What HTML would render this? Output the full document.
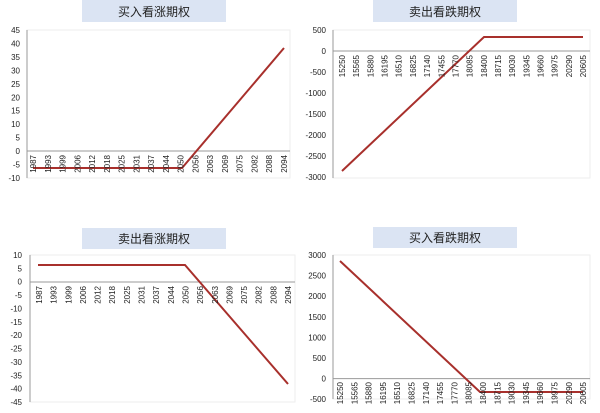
<!DOCTYPE html>
<html><head><meta charset="utf-8"><style>
body{margin:0;background:#fff;}
svg{display:block;font-family:"Liberation Sans","Noto Sans CJK SC",sans-serif;}
.t{font-size:12px;fill:#222;text-anchor:middle}
.y{font-size:8px;fill:#222;text-anchor:end}
.x{font-size:8px;fill:#222}
</style></head><body>
<svg width="600" height="413" viewBox="0 0 600 413" xmlns="http://www.w3.org/2000/svg">
<rect x="82" y="0" width="144" height="22" fill="#dbe4f3"/>
<text class="t" x="154" y="16">买入看涨期权</text>
<rect x="27" y="30" width="263" height="148" fill="none" stroke="#eee"/>
<line x1="27" y1="30" x2="27" y2="178" stroke="#999"/>
<line x1="27" y1="151" x2="290" y2="151" stroke="#999"/>
<g class="y">
<text x="20" y="33">45</text><text x="20" y="46.5">40</text><text x="20" y="60">35</text><text x="20" y="73.4">30</text><text x="20" y="86.8">25</text><text x="20" y="100.3">20</text><text x="20" y="113.7">15</text><text x="20" y="127.2">10</text><text x="20" y="140.6">5</text><text x="20" y="154">0</text><text x="20" y="167.5">-5</text><text x="20" y="181">-10</text>
</g>
<polyline points="33,168 182,168 284,48" fill="none" stroke="#a8302c" stroke-width="2"/>

<rect x="373" y="0" width="144" height="22" fill="#dbe4f3"/>
<text class="t" x="445" y="16">卖出看跌期权</text>
<rect x="333" y="30" width="257" height="148" fill="none" stroke="#eee"/>
<line x1="333" y1="30" x2="333" y2="178" stroke="#999"/>
<line x1="333" y1="51" x2="590" y2="51" stroke="#999"/>
<g class="y">
<text x="326" y="33">500</text><text x="326" y="54">0</text><text x="326" y="75">-500</text><text x="326" y="96">-1000</text><text x="326" y="117">-1500</text><text x="326" y="138">-2000</text><text x="326" y="159">-2500</text><text x="326" y="180">-3000</text>
</g>
<polyline points="342,171 484,37 583,37" fill="none" stroke="#a8302c" stroke-width="2"/>

<rect x="82" y="228" width="144" height="21" fill="#dbe4f3"/>
<text class="t" x="154" y="243">卖出看涨期权</text>
<rect x="30" y="255" width="265" height="147" fill="none" stroke="#eee"/>
<line x1="30" y1="255" x2="30" y2="402" stroke="#999"/>
<line x1="30" y1="282" x2="295" y2="282" stroke="#999"/>
<g class="y">
<text x="22" y="258">10</text><text x="22" y="271.4">5</text><text x="22" y="284.7">0</text><text x="22" y="298">-5</text><text x="22" y="311.5">-10</text><text x="22" y="324.8">-15</text><text x="22" y="338.2">-20</text><text x="22" y="351.5">-25</text><text x="22" y="364.9">-30</text><text x="22" y="378.3">-35</text><text x="22" y="391.6">-40</text><text x="22" y="405">-45</text>
</g>
<polyline points="38,265 185,265 288,384" fill="none" stroke="#a8302c" stroke-width="2"/>

<rect x="373" y="227" width="144" height="21" fill="#dbe4f3"/>
<text class="t" x="445" y="242">买入看跌期权</text>
<rect x="333" y="255" width="257" height="144" fill="none" stroke="#eee"/>
<line x1="333" y1="255" x2="333" y2="399" stroke="#999"/>
<line x1="333" y1="378.6" x2="590" y2="378.6" stroke="#999"/>
<g class="y">
<text x="326" y="258">3000</text><text x="326" y="278.6">2500</text><text x="326" y="299.2">2000</text><text x="326" y="319.8">1500</text><text x="326" y="340.4">1000</text><text x="326" y="361">500</text><text x="326" y="381.6">0</text><text x="326" y="402">-500</text>
</g>
<polyline points="340,261 480,392 583,392" fill="none" stroke="#a8302c" stroke-width="2"/>

<g class="x">
<text transform="translate(36,155) rotate(-90)" text-anchor="end">1987</text>
<text transform="translate(50.8,155) rotate(-90)" text-anchor="end">1993</text>
<text transform="translate(65.5,155) rotate(-90)" text-anchor="end">1999</text>
<text transform="translate(80.3,155) rotate(-90)" text-anchor="end">2006</text>
<text transform="translate(95,155) rotate(-90)" text-anchor="end">2012</text>
<text transform="translate(109.8,155) rotate(-90)" text-anchor="end">2018</text>
<text transform="translate(124.6,155) rotate(-90)" text-anchor="end">2025</text>
<text transform="translate(139.3,155) rotate(-90)" text-anchor="end">2031</text>
<text transform="translate(154,155) rotate(-90)" text-anchor="end">2037</text>
<text transform="translate(168.8,155) rotate(-90)" text-anchor="end">2044</text>
<text transform="translate(183.6,155) rotate(-90)" text-anchor="end">2050</text>
<text transform="translate(198.4,155) rotate(-90)" text-anchor="end">2056</text>
<text transform="translate(213,155) rotate(-90)" text-anchor="end">2063</text>
<text transform="translate(227.9,155) rotate(-90)" text-anchor="end">2069</text>
<text transform="translate(242.6,155) rotate(-90)" text-anchor="end">2075</text>
<text transform="translate(257.4,155) rotate(-90)" text-anchor="end">2082</text>
<text transform="translate(272.2,155) rotate(-90)" text-anchor="end">2088</text>
<text transform="translate(287,155) rotate(-90)" text-anchor="end">2094</text>
</g>
<g class="x">
<text transform="translate(42,286) rotate(-90)" text-anchor="end">1987</text>
<text transform="translate(56.6,286) rotate(-90)" text-anchor="end">1993</text>
<text transform="translate(71.3,286) rotate(-90)" text-anchor="end">1999</text>
<text transform="translate(85.9,286) rotate(-90)" text-anchor="end">2006</text>
<text transform="translate(100.6,286) rotate(-90)" text-anchor="end">2012</text>
<text transform="translate(115.2,286) rotate(-90)" text-anchor="end">2018</text>
<text transform="translate(129.9,286) rotate(-90)" text-anchor="end">2025</text>
<text transform="translate(144.5,286) rotate(-90)" text-anchor="end">2031</text>
<text transform="translate(159.2,286) rotate(-90)" text-anchor="end">2037</text>
<text transform="translate(173.8,286) rotate(-90)" text-anchor="end">2044</text>
<text transform="translate(188.5,286) rotate(-90)" text-anchor="end">2050</text>
<text transform="translate(203.1,286) rotate(-90)" text-anchor="end">2056</text>
<text transform="translate(217.8,286) rotate(-90)" text-anchor="end">2063</text>
<text transform="translate(232.4,286) rotate(-90)" text-anchor="end">2069</text>
<text transform="translate(247.1,286) rotate(-90)" text-anchor="end">2075</text>
<text transform="translate(261.7,286) rotate(-90)" text-anchor="end">2082</text>
<text transform="translate(276.4,286) rotate(-90)" text-anchor="end">2088</text>
<text transform="translate(291,286) rotate(-90)" text-anchor="end">2094</text>
</g>
<g class="x">
<text transform="translate(345,55) rotate(-90)" text-anchor="end">15250</text>
<text transform="translate(359.2,55) rotate(-90)" text-anchor="end">15565</text>
<text transform="translate(373.4,55) rotate(-90)" text-anchor="end">15880</text>
<text transform="translate(387.5,55) rotate(-90)" text-anchor="end">16195</text>
<text transform="translate(401.7,55) rotate(-90)" text-anchor="end">16510</text>
<text transform="translate(415.9,55) rotate(-90)" text-anchor="end">16825</text>
<text transform="translate(430.1,55) rotate(-90)" text-anchor="end">17140</text>
<text transform="translate(444.3,55) rotate(-90)" text-anchor="end">17455</text>
<text transform="translate(458.4,55) rotate(-90)" text-anchor="end">17770</text>
<text transform="translate(472.6,55) rotate(-90)" text-anchor="end">18085</text>
<text transform="translate(486.8,55) rotate(-90)" text-anchor="end">18400</text>
<text transform="translate(501,55) rotate(-90)" text-anchor="end">18715</text>
<text transform="translate(515.2,55) rotate(-90)" text-anchor="end">19030</text>
<text transform="translate(529.3,55) rotate(-90)" text-anchor="end">19345</text>
<text transform="translate(543.5,55) rotate(-90)" text-anchor="end">19660</text>
<text transform="translate(557.7,55) rotate(-90)" text-anchor="end">19975</text>
<text transform="translate(571.9,55) rotate(-90)" text-anchor="end">20290</text>
<text transform="translate(586,55) rotate(-90)" text-anchor="end">20605</text>
</g>
<g class="x">
<text transform="translate(343,382) rotate(-90)" text-anchor="end">15250</text>
<text transform="translate(357.3,382) rotate(-90)" text-anchor="end">15565</text>
<text transform="translate(371.6,382) rotate(-90)" text-anchor="end">15880</text>
<text transform="translate(385.9,382) rotate(-90)" text-anchor="end">16195</text>
<text transform="translate(400.2,382) rotate(-90)" text-anchor="end">16510</text>
<text transform="translate(414.5,382) rotate(-90)" text-anchor="end">16825</text>
<text transform="translate(428.8,382) rotate(-90)" text-anchor="end">17140</text>
<text transform="translate(443.1,382) rotate(-90)" text-anchor="end">17455</text>
<text transform="translate(457.4,382) rotate(-90)" text-anchor="end">17770</text>
<text transform="translate(471.7,382) rotate(-90)" text-anchor="end">18085</text>
<text transform="translate(486,382) rotate(-90)" text-anchor="end">18400</text>
<text transform="translate(500.3,382) rotate(-90)" text-anchor="end">18715</text>
<text transform="translate(514.6,382) rotate(-90)" text-anchor="end">19030</text>
<text transform="translate(528.9,382) rotate(-90)" text-anchor="end">19345</text>
<text transform="translate(543.2,382) rotate(-90)" text-anchor="end">19660</text>
<text transform="translate(557.5,382) rotate(-90)" text-anchor="end">19975</text>
<text transform="translate(571.8,382) rotate(-90)" text-anchor="end">20290</text>
<text transform="translate(586,382) rotate(-90)" text-anchor="end">20605</text>
</g>
</svg>
</body></html>
